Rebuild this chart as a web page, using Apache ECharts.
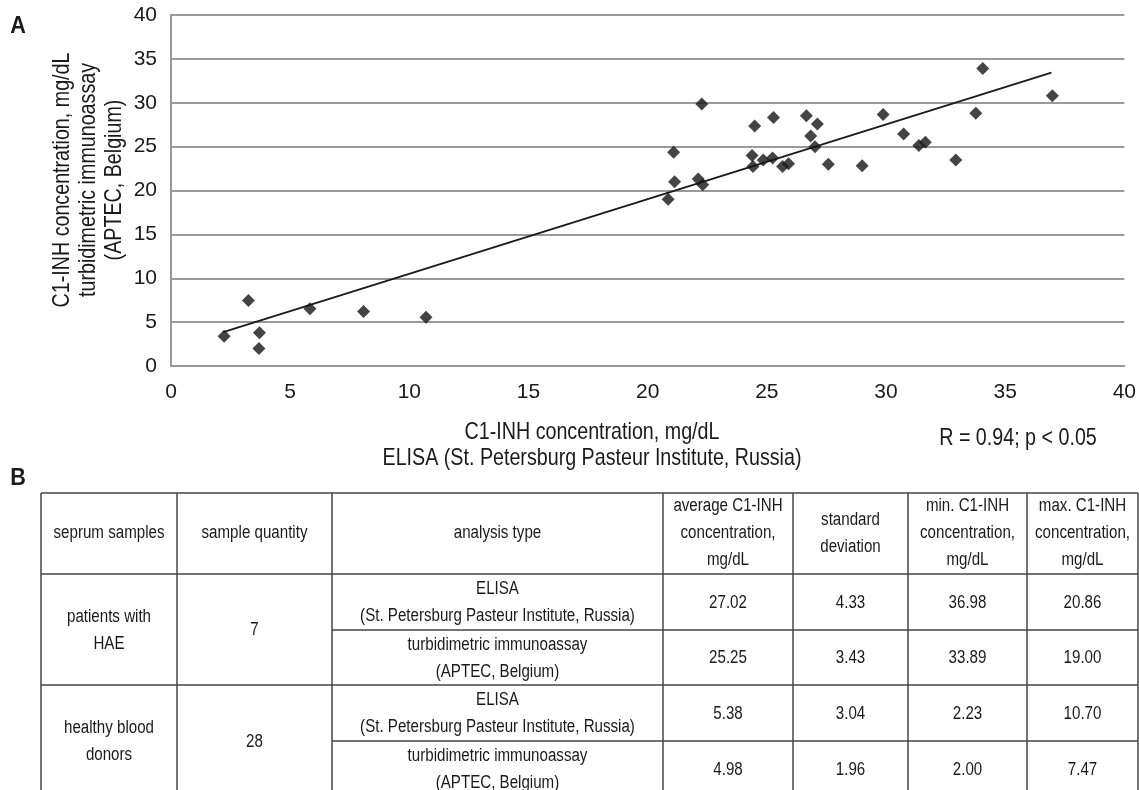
<!DOCTYPE html>
<html lang="en">
<head>
    <meta charset="UTF-8">
    <title>C1-INH ELISA vs turbidimetric</title>
    <script src="https://cdn.jsdelivr.net/npm/echarts@6/dist/echarts.min.js"></script>
    <style>
        body { margin: 0; background: #fff; }
        #main { width: 1139px; height: 790px; }
    </style>
</head>
<body>
<div id="main"></div>
<script>
    // scatter: ELISA (x) vs turbidimetric (y), mg/dL
    var elisaValues = [2.23, 3.25, 3.71, 3.69, 5.83, 8.08, 10.70,
        20.86, 21.09, 21.13, 22.12, 22.31, 22.27, 24.49, 24.38, 24.42, 24.85, 25.24, 25.28, 25.66, 25.91,
        26.66, 27.12, 26.84, 27.02, 27.58, 29.00, 29.88, 30.74, 31.38, 31.65, 32.93, 33.77, 34.06, 36.98];
    var turbValues = [3.39, 7.47, 3.78, 2.00, 6.51, 6.20, 5.55,
        19.00, 24.37, 20.99, 21.30, 20.65, 29.86, 27.36, 23.98, 22.73, 23.49, 23.69, 28.31, 22.73, 23.04,
        28.53, 27.59, 26.22, 25.00, 23.00, 22.81, 28.65, 26.45, 25.12, 25.50, 23.49, 28.80, 33.89, 30.81];
    // trend line ends
    var trendX = [2.19, 36.94];
    var trendY = [3.85, 33.43];
    var axisTicks = [0, 5, 10, 15, 20, 25, 30, 35, 40];

    // table B
    var tableHeaders = ['seprum samples', 'sample quantity', 'analysis type',
        'average C1-INH\nconcentration,\nmg/dL', 'standard\ndeviation',
        'min. C1-INH\nconcentration,\nmg/dL', 'max. C1-INH\nconcentration,\nmg/dL'];
    var sampleGroups = ['patients with\nHAE', 'healthy blood\ndonors'];
    var sampleCounts = ['7', '28'];
    var analysisTypes = ['ELISA\n(St. Petersburg Pasteur Institute, Russia)', 'turbidimetric immunoassay\n(APTEC, Belgium)'];
    var statRows = [
        ['27.02', '4.33', '36.98', '20.86'],
        ['25.25', '3.43', '33.89', '19.00'],
        ['5.38', '3.04', '2.23', '10.70'],
        ['4.98', '1.96', '2.00', '7.47']
    ];

    var FONT = "'Liberation Sans', Arial, sans-serif";
    var TXT = '#1a1a1a';
    var SQUEEZE = 0.84;   // the source lettering is condensed

    var points = elisaValues.map(function (v, i) { return [v, turbValues[i]]; });
    var trend = trendX.map(function (v, i) { return [v, trendY[i]]; });

    // table layout (pixels)
    var colX = [41, 177, 332, 663, 793, 908, 1027, 1138];
    var rowY = [493, 574, 630, 685, 741, 797];
    var lineColor = '#444';

    function hline(x1, x2, y) {
        return { type: 'line', shape: { x1: x1, y1: y, x2: x2, y2: y }, style: { stroke: lineColor, lineWidth: 1.5 } };
    }
    function vline(x, y1, y2) {
        return { type: 'line', shape: { x1: x, y1: y1, x2: x, y2: y2 }, style: { stroke: lineColor, lineWidth: 1.5 } };
    }
    function label(str, cx, cy, size, lh, sx, extra) {
        var el = {
            type: 'text', x: cx, y: cy, scaleX: sx,
            style: { text: str, align: 'center', verticalAlign: 'middle', fontSize: size, fontFamily: FONT, fill: TXT, lineHeight: lh }
        };
        if (extra) { for (var k in extra) el[k] = extra[k]; }
        return el;
    }

    var g = [];
    // table rules
    g.push(hline(colX[0], colX[7], rowY[0]));
    g.push(hline(colX[0], colX[7], rowY[1]));
    g.push(hline(colX[0], colX[7], rowY[3]));
    g.push(hline(colX[0], colX[7], rowY[5]));
    g.push(hline(colX[2], colX[7], rowY[2]));
    g.push(hline(colX[2], colX[7], rowY[4]));
    colX.forEach(function (x) { g.push(vline(x, rowY[0], rowY[5])); });

    // header
    tableHeaders.forEach(function (h, i) {
        g.push(label(h, (colX[i] + colX[i + 1]) / 2, (rowY[0] + rowY[1]) / 2, 18, 27, SQUEEZE));
    });
    // body
    sampleGroups.forEach(function (name, gi) {
        var top = rowY[1 + gi * 2], bot = rowY[3 + gi * 2];
        g.push(label(name, (colX[0] + colX[1]) / 2, (top + bot) / 2 + 1, 18, 27, SQUEEZE));
        g.push(label(sampleCounts[gi], (colX[1] + colX[2]) / 2, (top + bot) / 2 + 1, 18, 27, SQUEEZE));
        analysisTypes.forEach(function (a, ai) {
            var r = gi * 2 + ai;
            var y = (rowY[1 + r] + rowY[2 + r]) / 2 + 1;
            g.push(label(a, (colX[2] + colX[3]) / 2, y, 18, 27, SQUEEZE));
            statRows[r].forEach(function (s, si) {
                g.push(label(s, (colX[3 + si] + colX[4 + si]) / 2, y, 18, 27, SQUEEZE));
            });
        });
    });

    // panel letters and titles
    var letter = { fontSize: 24, fontWeight: 'bold', fontFamily: FONT, fill: TXT, align: 'center', verticalAlign: 'middle' };
    g.push({ type: 'text', x: 18, y: 26, scaleX: 0.9, style: Object.assign({ text: 'A' }, letter) });
    g.push({ type: 'text', x: 18, y: 478, scaleX: 0.9, style: Object.assign({ text: 'B' }, letter) });
    g.push(label('C1-INH concentration, mg/dL\nELISA (St. Petersburg Pasteur Institute, Russia)', 592, 445, 24, 26, 0.82));
    g.push(label('R = 0.94; p < 0.05', 1018, 438, 24, 24, 0.82));
    g.push(label('C1-INH concentration, mg/dL\nturbidimetric immunoassay\n(APTEC, Belgium)', 88, 180, 24, 26, 0.82, { rotation: Math.PI / 2 }));

    var myChart = echarts.init(document.getElementById('main'));
    var option = {
        backgroundColor: '#fff',
        animation: false,
        grid: { left: 171, right: 11, top: 15, bottom: 424, containLabel: false },
        xAxis: {
            type: 'value', min: axisTicks[0], max: axisTicks[axisTicks.length - 1], interval: 5,
            axisLine: { show: true, lineStyle: { color: '#999', width: 2 } },
            axisTick: { show: false },
            splitLine: { show: false },
            axisLabel: { margin: 16, fontSize: 21, fontFamily: FONT, color: TXT }
        },
        yAxis: {
            type: 'value', min: axisTicks[0], max: axisTicks[axisTicks.length - 1], interval: 5,
            axisLine: { show: true, lineStyle: { color: '#999', width: 2 } },
            axisTick: { show: false },
            splitLine: { show: true, lineStyle: { color: '#9a9a9a', width: 2 } },
            axisLabel: { margin: 14, fontSize: 21, fontFamily: FONT, color: TXT }
        },
        series: [
            {
                type: 'line', data: trend, symbol: 'none', silent: true,
                lineStyle: { color: '#1a1a1a', width: 1.8 }, z: 2
            },
            {
                type: 'scatter', data: points, symbol: 'diamond', symbolSize: 13,
                itemStyle: { color: '#151515' }, z: 3
            }
        ],
        graphic: g
    };
    myChart.setOption(option);
</script>
</body>
</html>
